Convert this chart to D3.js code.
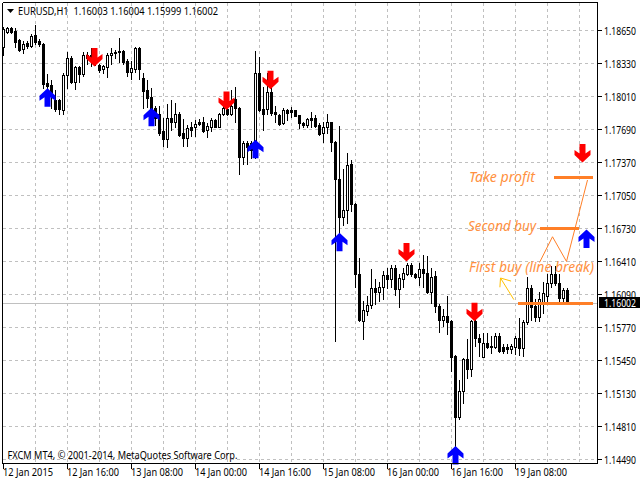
<!DOCTYPE html>
<html><head><meta charset="utf-8">
<script src="https://cdn.jsdelivr.net/npm/d3@7"></script>
<style>html,body{margin:0;padding:0;background:#fff}svg{display:block}text{font-family:"Noto Sans","DejaVu Sans",sans-serif}</style>
</head><body><div id="c"></div>
<script>
// Quotes in units of 0.0001: value / 10000 = EURUSD price
const open = [11849,11864,11867,11865,11856,11847,11853,11850,11861,11855,11852,11814,11812,11798,11798,11788,11822,11838,11815,11830,11823,11841,11841,11838,11832,11828,11830,11841,11844,11845,11845,11835,11825,11828,11848,11819,11807,11801,11790,11784,
11768,11760,11780,11776,11784,11766,11761,11771,11771,11776,11776,11769,11771,11778,11771,11784,11789,11784,11799,11790,11742,11756,11756,11758,11824,11789,11789,11805,11786,11783,11775,11788,11788,11788,11783,11775,11773,11780,11780,11773,
11766,11771,11776,11757,11721,11684,11691,11736,11697,11629,11583,11593,11599,11615,11611,11616,11628,11624,11635,11614,11624,11629,11638,11629,11626,11634,11630,11611,11627,11598,11584,11588,
11583,11549,11490,11515,11546,11537,11583,11567,11548,11562,11559,11558,11569,11558,11558,11556,11558,11567,11557,11582,11615,11598,11587,11600,11608,11620,11629,11620,11606,11613];
const high = [11868,11868,11868,11867,11857,11855,11855,11862,11870,11857,11853,11823,11817,11807,11799,11824,11844,11840,11831,11831,11844,11844,11848,11846,11833,11832,11843,11848,11846,11858,11846,11837,11835,11849,11849,11824,11817,11809,11792,11792,
11780,11794,11798,11795,11786,11779,11773,11776,11778,11779,11781,11775,11780,11779,11785,11792,11792,11807,11810,11791,11758,11758,11758,11845,11839,11810,11824,11810,11792,11784,11790,11789,11791,11788,11783,11776,11780,11786,11783,11775,
11776,11784,11776,11758,11772,11731,11746,11739,11698,11644,11603,11608,11634,11624,11621,11632,11635,11638,11638,11629,11635,11640,11640,11630,11640,11647,11646,11635,11632,11600,11595,11608,
11584,11550,11526,11547,11566,11584,11595,11571,11572,11572,11569,11572,11572,11561,11561,11561,11569,11586,11584,11626,11618,11605,11611,11621,11629,11637,11637,11629,11615,11615];
const low = [11841,11863,11863,11849,11845,11843,11848,11849,11852,11850,11809,11800,11790,11787,11784,11784,11809,11814,11808,11815,11821,11833,11831,11832,11825,11824,11820,11833,11838,11834,11833,11821,11818,11825,11818,11790,11791,11784,11773,11764,
11753,11752,11769,11771,11763,11753,11753,11763,11763,11773,11767,11762,11768,11771,11771,11783,11783,11783,11776,11726,11736,11736,11741,11741,11787,11769,11784,11783,11776,11773,11774,11778,11781,11782,11770,11771,11771,11771,11771,11764,
11757,11766,11748,11564,11669,11676,11678,11690,11616,11583,11566,11589,11596,11600,11603,11605,11615,11616,11609,11597,11616,11628,11627,11625,11618,11616,11610,11601,11592,11573,11578,11571,
11535,11446,11488,11504,11528,11530,11559,11549,11548,11557,11552,11557,11553,11552,11552,11552,11551,11550,11549,11580,11584,11583,11583,11591,11603,11616,11618,11600,11601,11600];
const close = [11866,11867,11864,11854,11846,11852,11850,11860,11854,11852,11813,11811,11802,11789,11789,11822,11838,11815,11830,11823,11841,11838,11836,11834,11827,11831,11841,11843,11843,11844,11834,11825,11829,11848,11828,11806,11800,11790,11780,11766,
11760,11780,11776,11784,11764,11761,11770,11769,11774,11774,11768,11772,11778,11771,11784,11790,11784,11792,11790,11742,11756,11752,11749,11824,11788,11784,11805,11785,11784,11774,11788,11785,11786,11782,11775,11773,11779,11778,11772,11765,
11771,11776,11757,11721,11684,11691,11735,11697,11629,11584,11594,11599,11615,11611,11616,11628,11624,11635,11614,11625,11630,11638,11629,11626,11634,11630,11611,11626,11598,11584,11588,11582,
11548,11490,11515,11546,11537,11583,11567,11563,11562,11558,11558,11569,11554,11554,11556,11559,11567,11557,11582,11615,11597,11587,11605,11610,11620,11629,11620,11606,11613,11600];

const xTickBars = [0,16,32,48,64,80,96,112,128];
const xTickLabels = ["12 Jan 2015","12 Jan 16:00","13 Jan 08:00","14 Jan 00:00","14 Jan 16:00","15 Jan 08:00","16 Jan 00:00","16 Jan 16:00","19 Jan 08:00"];
const xGridBars = [8,16,24,32,40,48,56,64,72,80,88,96,104,112,120,128,136,144];
const priceTicks = [1.18650,1.18330,1.18010,1.17690,1.17370,1.17050,1.16730,1.16410,1.16090,1.15770,1.15450,1.15130,1.14810,1.14490];
const lastPrice = 1.16002;

const buyBars = [11,37,63,84,113,145.75];
const buyPrices = [11809,11790,11759,11669,11462,11672];
const sellBars = [22.75,55.75,66.75,100.75,117.75,144.75];
const sellPrices = [11830,11788,11808,11641,11583,11737];

const levelBars = [[137.5,147.25],[134,143.75],[128.5,147.25]];
const levelPrices = [11722,11673,11600.2];
const zigBars = [134,137.25,140.75,146];
const zigPrices = [11640,11665,11641,11720];
const goldBars = [[127.6,124.25],[124.1,124.25,126.9]];
const goldPrices = [[11604,11625],[11616,11625,11622]];

const labelTexts = ["Take profit","Second buy","First buy (line break)"];

const W=640,H=480,L=2.5,R=597.5,T=2.5,B=463.5;
const x = d3.scaleLinear().domain([0,1]).range([3.5,7.5]);
const y = d3.scaleLinear().domain([1.1449,1.1865]).range([459.5,30.5]);
const q = v => y(v/10000);
const snap = v => Math.round(v-0.5)+0.5;

const svg = d3.select("#c").append("svg").attr("width",W).attr("height",H);

// grid
const g = svg.append("g").attr("stroke","#c0c0c0").attr("stroke-dasharray","3,3").attr("shape-rendering","crispEdges");
g.selectAll(".h").data(priceTicks).join("line").attr("x1",L).attr("x2",R).attr("y1",d=>snap(y(d))).attr("y2",d=>snap(y(d)));
g.selectAll(".v").data(xGridBars).join("line").attr("y1",T).attr("y2",B).attr("x1",d=>x(d)).attr("x2",d=>x(d));

// last price line
svg.append("line").attr("x1",L).attr("x2",R).attr("y1",snap(y(lastPrice))).attr("y2",snap(y(lastPrice))).attr("stroke","#c0c0c0").attr("shape-rendering","crispEdges");

// candles
const cg = svg.append("g").attr("shape-rendering","crispEdges");
const idx = d3.range(open.length);
cg.selectAll(".w").data(idx).join("line").attr("stroke","#000")
  .attr("x1",i=>x(i)).attr("x2",i=>x(i)).attr("y1",i=>Math.round(q(high[i]))).attr("y2",i=>Math.round(q(low[i]))+1);
cg.selectAll(".b").data(idx).join("rect")
  .attr("x",i=>x(i)-1).attr("width",2)
  .attr("y",i=>Math.round(q(Math.max(open[i],close[i])))+0.5)
  .attr("height",i=>Math.max(1,Math.round(q(Math.min(open[i],close[i])))-Math.round(q(Math.max(open[i],close[i])))))
  .attr("fill",i=>close[i]>open[i]?"#fff":"#000").attr("stroke","#000");

// arrows
const arrowUp = [[0,0],[8,7.5],[8,12.5],[3,9],[3,18.5],[-3,18.5],[-3,9],[-8,12.5],[-8,7.5]];
const arrowPath = d3.line();
svg.selectAll(".up").data(buyBars).join("path").attr("fill","#0000ff")
  .attr("d",(d,i)=>arrowPath(arrowUp.map(p=>[x(d)+p[0],q(buyPrices[i])+p[1]]))+"Z");
svg.selectAll(".dn").data(sellBars).join("path").attr("fill","#ff0000")
  .attr("d",(d,i)=>arrowPath(arrowUp.map(p=>[x(d)+p[0],q(sellPrices[i])-p[1]]))+"Z");

// frame
const fr = svg.append("g").attr("stroke","#000").attr("shape-rendering","crispEdges");
fr.append("line").attr("x1",L).attr("x2",R).attr("y1",T).attr("y2",T);
fr.append("line").attr("x1",L).attr("x2",L).attr("y1",T).attr("y2",B);
fr.append("line").attr("x1",R).attr("x2",R).attr("y1",T).attr("y2",B);
fr.append("line").attr("x1",L).attr("x2",R).attr("y1",B).attr("y2",B);
fr.selectAll(".ty").data(priceTicks).join("line").attr("x1",R).attr("x2",R+4).attr("y1",d=>snap(y(d))).attr("y2",d=>snap(y(d)));
fr.selectAll(".tx").data(xTickBars).join("line").attr("x1",d=>x(d)).attr("x2",d=>x(d)).attr("y1",B).attr("y2",B+5);

// labels
const fit = (s,len)=>s.attr("textLength",len).attr("lengthAdjust","spacingAndGlyphs");
fit(svg.selectAll(".yl").data(priceTicks).join("text").attr("x",604).attr("y",d=>y(d)+4).attr("font-size",10).attr("fill","#000").text(d=>d.toFixed(5)),32);
fit(svg.selectAll(".xl").data(xTickBars).join("text").attr("x",d=>x(d)-0.5).attr("y",476).attr("font-size",10).attr("fill","#000").text((d,i)=>xTickLabels[i]),(d,i)=>i?52:50);
svg.append("rect").attr("x",599).attr("y",297).attr("width",41).attr("height",11).attr("fill","#000");
fit(svg.append("text").attr("x",604).attr("y",y(lastPrice)+3.5).attr("font-size",10).attr("fill","#fff").text(lastPrice.toFixed(5)),32);

// title
svg.append("path").attr("d","M7,9H14L10.5,13Z").attr("fill","#000");
fit(svg.append("text").attr("x",18).attr("y",14.5).attr("font-size",10).attr("fill","#000").attr("xml:space","preserve").text("EURUSD,H1  1.16003 1.16004 1.15999 1.16002"),200);
fit(svg.append("text").attr("x",7.5).attr("y",459).attr("font-size",10).attr("fill","#000").text("FXCM MT4, © 2001-2014, MetaQuotes Software Corp."),230);

// annotations
const lg = svg.append("g");
lg.selectAll(".lv").data(levelPrices).join("line").attr("stroke","#ff7f27").attr("stroke-width",3).attr("shape-rendering","crispEdges")
  .attr("x1",(d,i)=>x(levelBars[i][0])).attr("x2",(d,i)=>x(levelBars[i][1])).attr("y1",d=>q(d)).attr("y2",d=>q(d));
const line2 = d3.line();
lg.append("path").attr("fill","none").attr("stroke","#ff7f27").attr("d",line2(zigBars.map((d,i)=>[x(d),q(zigPrices[i])])));
goldBars.forEach((b,j)=>lg.append("path").attr("fill","none").attr("stroke","#ffc000").attr("d",line2(b.map((d,i)=>[x(d),q(goldPrices[j][i])]))));
const labelX=[469,468,469], labelY=[182,231,272], labelW=[66,68,125];
fit(svg.selectAll(".an").data(labelTexts).join("text").attr("x",(d,i)=>labelX[i]).attr("y",(d,i)=>labelY[i])
  .attr("font-size",14).attr("font-style","italic").attr("fill","#ff9040").text(d=>d),(d,i)=>labelW[i]);
</script></body></html>
